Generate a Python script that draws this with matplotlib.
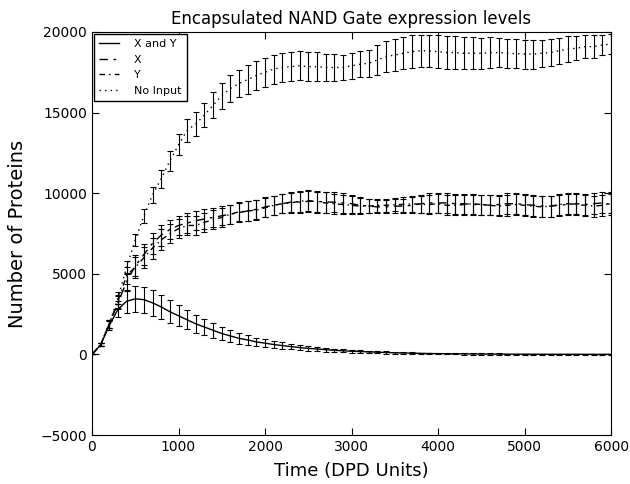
import numpy as np
import matplotlib
matplotlib.use("Agg")
import matplotlib.pyplot as plt
from matplotlib.lines import Line2D

time = list(range(0, 6001, 100))

x_and_y = [0, 600, 1800, 2800, 3300, 3450, 3400, 3200, 2950, 2650,
           2400, 2150, 1900, 1700, 1500, 1300, 1150, 1000, 900, 780,
           700, 620, 550, 490, 430, 380, 340, 300, 260, 230,
           200, 180, 160, 140, 120, 105, 90, 80, 70, 60,
           50, 45, 40, 35, 30, 28, 25, 22, 20, 18,
           16, 15, 14, 13, 12, 11, 10, 10, 9, 9, 8]
x_and_y_err = [0, 100, 300, 500, 700, 800, 800, 800, 750, 700,
               650, 600, 550, 500, 450, 400, 350, 320, 290, 260,
               240, 220, 200, 180, 160, 150, 130, 120, 110, 100,
               90, 80, 75, 70, 65, 60, 55, 50, 50, 45,
               45, 40, 40, 40, 40, 40, 40, 40, 40, 40,
               40, 40, 40, 40, 40, 40, 40, 40, 40, 40, 40]

x_only = [0, 600, 1900, 3200, 4500, 5500, 6200, 6900, 7400, 7750,
          8000, 8150, 8300, 8400, 8500, 8600, 8700, 8800, 8900, 9000,
          9150, 9250, 9350, 9450, 9450, 9500, 9500, 9450, 9450, 9400,
          9350, 9250, 9200, 9150, 9150, 9200, 9200, 9250, 9350, 9400,
          9400, 9400, 9350, 9350, 9300, 9300, 9250, 9300, 9350, 9350,
          9300, 9250, 9200, 9200, 9250, 9300, 9350, 9300, 9350, 9400, 9300]
x_only_err = [0, 100, 250, 400, 550, 650, 650, 650, 650, 600,
              600, 600, 600, 600, 600, 600, 600, 600, 600, 600,
              600, 600, 600, 620, 650, 650, 650, 650, 620, 600,
              550, 500, 450, 400, 400, 420, 450, 500, 550, 600,
              600, 620, 620, 620, 620, 620, 620, 620, 650, 650,
              650, 650, 650, 650, 650, 650, 650, 650, 650, 650, 650]

y_only = [0, 600, 1900, 3300, 4900, 5400, 6000, 6600, 7100, 7500,
          7800, 8000, 8000, 8200, 8350, 8500, 8700, 8850, 8900, 8950,
          9100, 9250, 9350, 9400, 9500, 9550, 9450, 9400, 9350, 9300,
          9250, 9200, 9200, 9250, 9250, 9300, 9300, 9350, 9300, 9300,
          9350, 9250, 9250, 9300, 9350, 9300, 9250, 9200, 9250, 9300,
          9250, 9200, 9150, 9200, 9300, 9350, 9300, 9250, 9200, 9250, 9400]
y_only_err = [0, 100, 250, 400, 550, 650, 650, 650, 650, 600,
              600, 600, 600, 600, 600, 600, 600, 600, 600, 600,
              600, 600, 600, 620, 650, 650, 650, 650, 620, 600,
              550, 500, 450, 400, 400, 420, 450, 500, 550, 600,
              600, 620, 620, 620, 620, 620, 620, 620, 650, 650,
              650, 650, 650, 650, 650, 650, 650, 650, 650, 650, 650]

no_input = [0, 600, 1900, 3500, 5400, 7100, 8600, 9900, 10900, 12000,
            13000, 13900, 14300, 14850, 15450, 16050, 16500, 16800, 17050, 17300,
            17500, 17700, 17800, 17850, 17900, 17850, 17850, 17800, 17790, 17800,
            17900, 18000, 18060, 18260, 18470, 18570, 18680, 18780, 18840, 18820,
            18780, 18720, 18720, 18680, 18680, 18680, 18720, 18720, 18680, 18650,
            18630, 18630, 18680, 18720, 18840, 18930, 18990, 19090, 19090, 19190, 19250]
no_input_err = [0, 100, 250, 350, 400, 400, 450, 500, 550, 600,
                650, 700, 750, 750, 800, 800, 850, 850, 900, 900,
                900, 900, 900, 900, 900, 900, 900, 850, 850, 800,
                800, 800, 850, 900, 950, 1000, 1000, 1000, 1000, 1000,
                1000, 1000, 1000, 1000, 1000, 950, 950, 900, 900, 900,
                900, 900, 850, 850, 800, 800, 750, 700, 700, 650, 600]

series = [
    ("X and Y", x_and_y, x_and_y_err, "-"),
    ("X", x_only, x_only_err, (0, (6, 4, 2, 4))),
    ("Y", y_only, y_only_err, (0, (4, 3, 1, 3))),
    ("No Input", no_input, no_input_err, (0, (1, 3))),
]

fig = plt.figure(figsize=(6.3, 4.84), dpi=100)
ax = fig.add_axes([0.146, 0.101, 0.824, 0.833])

handles = []
for label, vals, errs, ls in series:
    ax.errorbar(time, vals, yerr=errs, color="black", linestyle=ls, linewidth=1.0,
                elinewidth=0.8, capsize=2.2, capthick=0.8)
    handles.append(Line2D([], [], color="black", linestyle=ls, linewidth=1.0, label=label))

ax.set_xlim(0, 6000)
ax.set_ylim(-5000, 20000)
ax.set_xticks(range(0, 6001, 1000))
ax.set_yticks(range(-5000, 20001, 5000))
ax.tick_params(direction="in", top=True, right=True, length=5, labelsize=10)
ax.set_title("Encapsulated NAND Gate expression levels", fontsize=12)
ax.set_xlabel("Time (DPD Units)", fontsize=13, labelpad=6)
ax.set_ylabel("Number of Proteins", fontsize=14, labelpad=9.5)

leg = ax.legend(handles=handles, loc="upper left", fontsize=8, fancybox=False,
                framealpha=1, edgecolor="black", handlelength=1.8,
                handletextpad=1.3, borderpad=0.5, borderaxespad=0.15)
leg.get_frame().set_linewidth(1.0)

fig.savefig("out.png", dpi=100, facecolor="white")
